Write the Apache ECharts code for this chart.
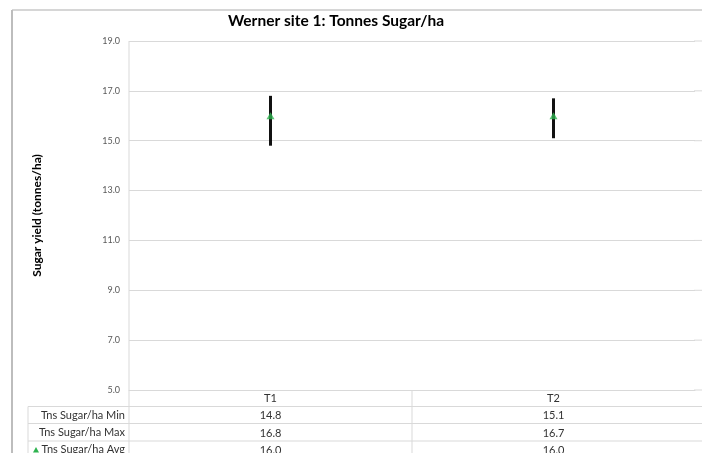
<!DOCTYPE html>
<html><head><meta charset="utf-8">
<script src="https://cdn.jsdelivr.net/npm/echarts@6/dist/echarts.min.js"></script>
<style>html,body{margin:0;padding:0;background:#fff;overflow:hidden}#c{width:702px;height:453px}</style>
</head><body><div id="c"></div>
<script>
const categories = ['T1', 'T2'];
const minValues = [14.8, 15.1];
const maxValues = [16.8, 16.7];
const avgValues = [16.0, 16.0];
const rowLabels = ['Tns Sugar/ha Min', 'Tns Sugar/ha Max', 'Tns Sugar/ha Avg'];
const yTicks = [5, 7, 9, 11, 13, 15, 17, 19];

const FONT = 'Lato, "Open Sans", sans-serif';
const chart = echarts.init(document.getElementById('c'));
const L = 129, R = 7, T = 41, B = 63;
const plotBottom = 453 - B; // 390
const rowY = [406.5, 423.5, 441];
const tableLeft = 28;
const lineColor = '#d9d9d9';

const graphics = [
  { type: 'line', shape: { x1: 12, y1: 10, x2: 702, y2: 10 }, style: { stroke: '#c8c8c8', lineWidth: 1.5 } },
  { type: 'line', shape: { x1: 12, y1: 10, x2: 12, y2: 460 }, style: { stroke: '#bdbdbd', lineWidth: 2 } }
];
rowY.forEach(y => graphics.push({ type: 'line', shape: { x1: tableLeft, y1: y, x2: 702, y2: y }, style: { stroke: lineColor, lineWidth: 1 } }));
graphics.push({ type: 'line', shape: { x1: tableLeft, y1: rowY[0], x2: tableLeft, y2: 460 }, style: { stroke: lineColor, lineWidth: 1 } });
graphics.push({ type: 'line', shape: { x1: L, y1: T, x2: L, y2: 460 }, style: { stroke: lineColor, lineWidth: 1 } });
const midX = L + (702 - R - L) / 2;
graphics.push({ type: 'line', shape: { x1: midX, y1: plotBottom, x2: midX, y2: 460 }, style: { stroke: lineColor, lineWidth: 1 } });
rowLabels.forEach((t, i) => {
  const cy = (i < 2 ? (rowY[i] + rowY[i + 1]) / 2 : rowY[i] + 8.7);
  graphics.push({ type: 'text', x: 125, y: cy, style: { text: t, font: '11px ' + FONT, fill: '#333', align: 'right', verticalAlign: 'middle' } });
});
graphics.push({ type: 'polygon', shape: { points: [[33, 452.5], [39, 452.5], [36, 447]] }, style: { fill: '#2eb34f' } });

const tableRows = [minValues, maxValues, avgValues];
const option = {
  animation: false,
  title: {
    text: 'Werner site 1: Tonnes Sugar/ha', left: 331, top: 8, textAlign: 'center',
    textStyle: { fontFamily: FONT, fontSize: 15.5, fontWeight: 'bold', color: '#000' }
  },
  grid: { left: L, right: R, top: T, bottom: B, outerBoundsMode: 'none', containLabel: false },
  xAxis: {
    type: 'category', data: categories,
    axisLine: { show: true, lineStyle: { color: lineColor } },
    axisTick: { show: false },
    axisLabel: {
      margin: 0, color: '#333', fontFamily: FONT, fontSize: 11, lineHeight: 17.3, verticalAlign: 'top',
      formatter: (v, i) => [v].concat(tableRows.map(r => r[i].toFixed(1))).join('\n')
    },
    splitLine: { show: false }
  },
  yAxis: {
    type: 'value', min: 5, max: 19, interval: 2,
    name: 'Sugar yield (tonnes/ha)', nameLocation: 'middle', nameGap: 86,
    nameTextStyle: { fontFamily: FONT, fontSize: 12, fontWeight: 'bold', color: '#000' },
    axisLine: { show: false }, axisTick: { show: false },
    axisLabel: { margin: 9, color: '#595959', fontFamily: FONT, fontSize: 9, formatter: v => v.toFixed(1) },
    splitLine: { lineStyle: { color: lineColor } }
  },
  series: [
    {
      type: 'custom', name: 'range',
      data: categories.map((c, i) => [i, minValues[i], maxValues[i]]),
      renderItem: (params, api) => {
        const lo = api.coord([api.value(0), api.value(1)]);
        const hi = api.coord([api.value(0), api.value(2)]);
        return { type: 'line', shape: { x1: lo[0], y1: lo[1], x2: hi[0], y2: hi[1] }, style: { stroke: '#111', lineWidth: 3 } };
      },
      z: 2
    },
    {
      type: 'scatter', name: 'Tns Sugar/ha Avg', data: avgValues,
      symbol: 'triangle', symbolSize: [8, 7], itemStyle: { color: '#2eb34f' }, z: 3
    }
  ],
  graphic: graphics
};
chart.setOption(option);
// extend the horizontal gridlines to the right edge of the picture
const ext = yTicks.map(v => {
  const y = chart.convertToPixel({ yAxisIndex: 0 }, v);
  return { type: 'line', shape: { x1: 694, y1: y, x2: 702, y2: y }, style: { stroke: lineColor, lineWidth: 1 }, z: 10 };
});
chart.setOption({ graphic: graphics.concat(ext) });
</script></body></html>
